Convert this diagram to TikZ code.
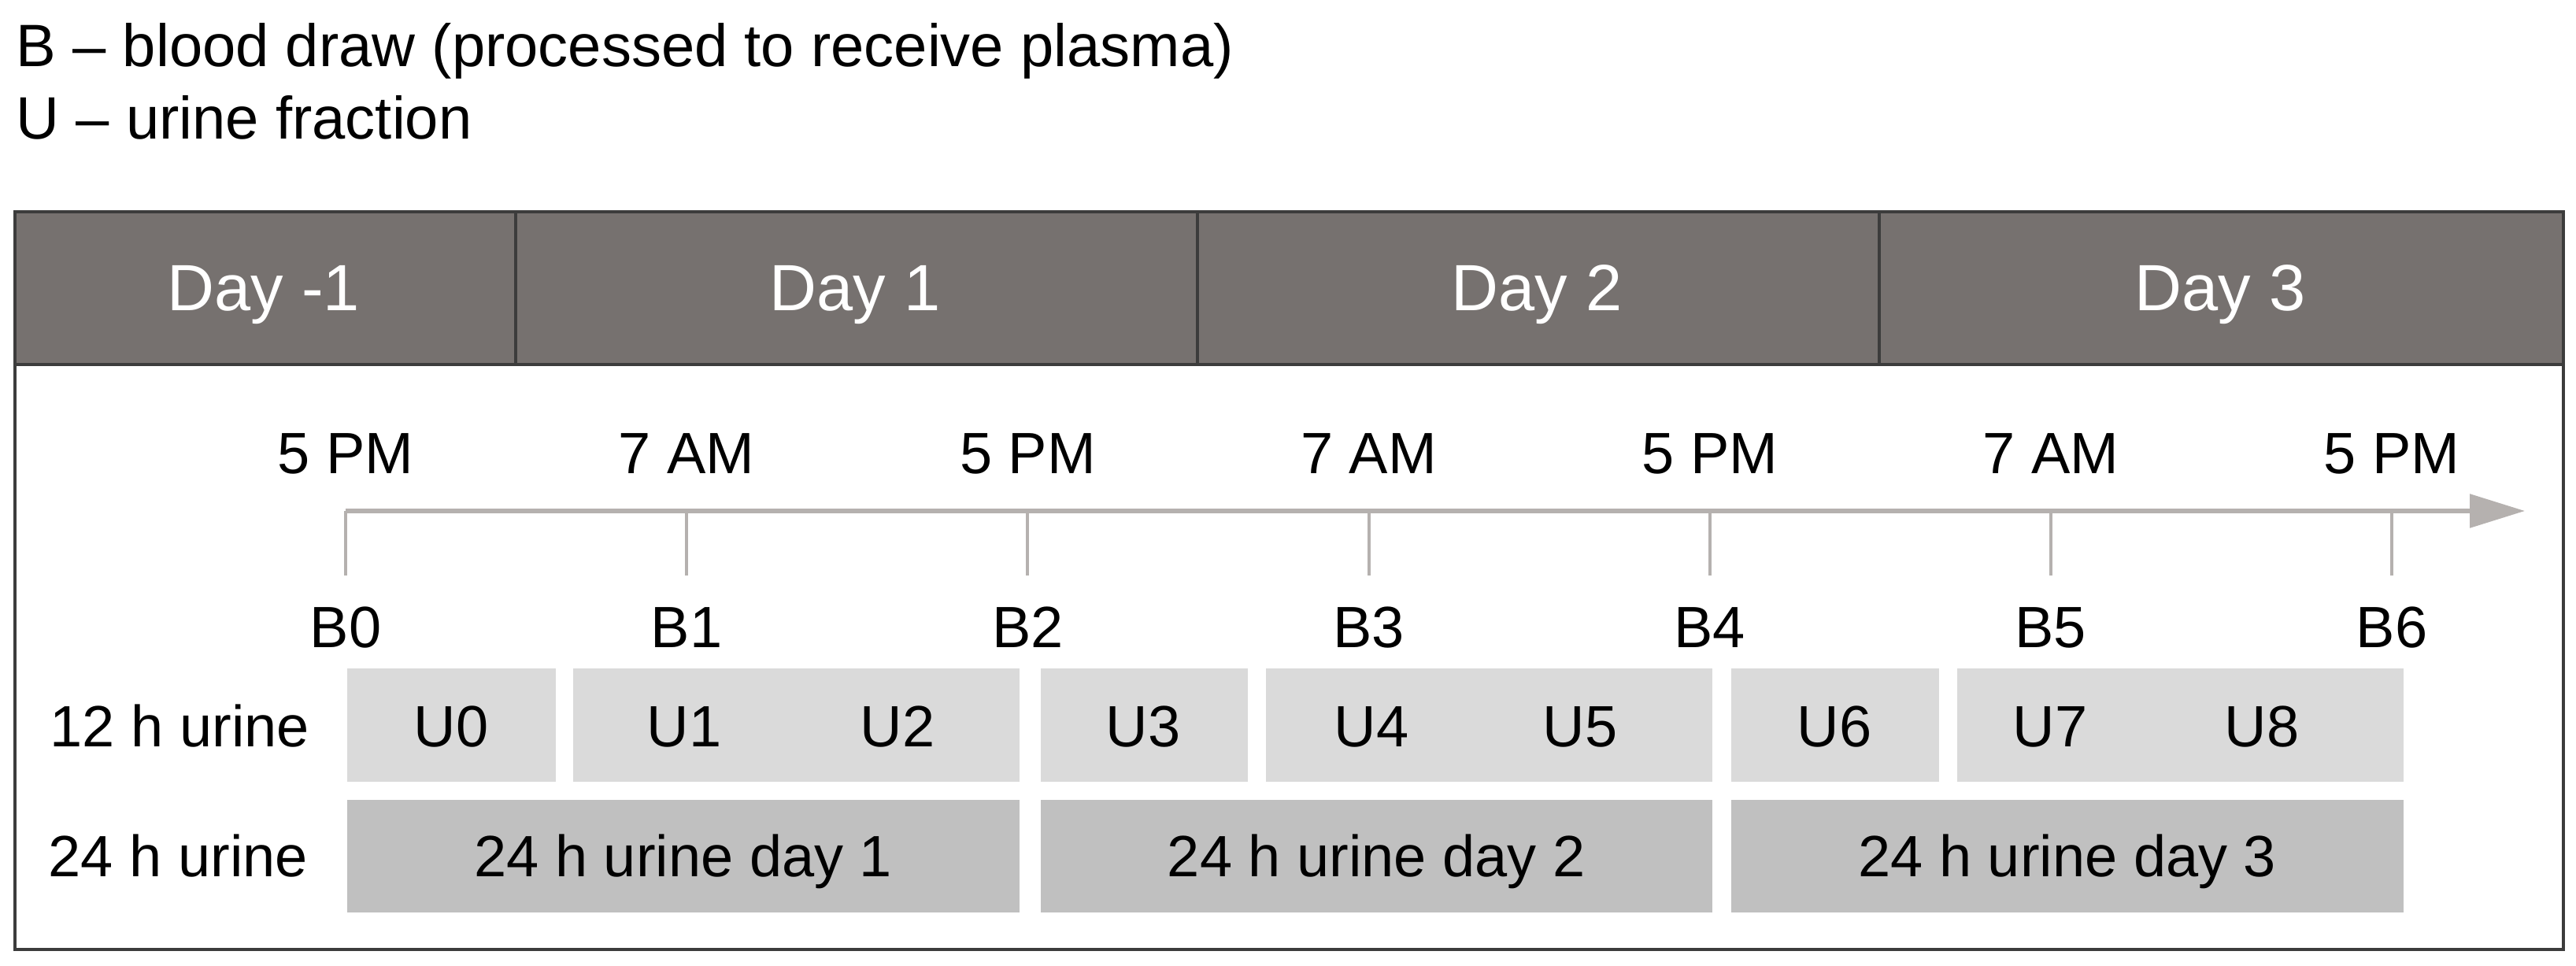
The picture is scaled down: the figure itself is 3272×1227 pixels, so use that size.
\documentclass[tikz,border=0pt]{standalone}
\usepackage{fontspec}
\setmainfont{Liberation Sans}
\usetikzlibrary{arrows.meta}
\definecolor{hdr}{RGB}{118,113,111}
\definecolor{framec}{RGB}{60,60,60}
\definecolor{uboxc}{RGB}{218,218,218}
\definecolor{dboxc}{RGB}{192,192,192}
\definecolor{axisc}{RGB}{181,177,175}
\begin{document}
\begin{tikzpicture}[x=0.25pt,y=-0.25pt,
  lbl/.style={font=\fontsize{18.5pt}{22pt}\selectfont, inner sep=0pt, anchor=base},
  leg/.style={font=\fontsize{19pt}{22pt}\selectfont, inner sep=0pt, anchor=base west},
  daylbl/.style={font=\fontsize{20.75pt}{24pt}\selectfont, text=white, inner sep=0pt, anchor=base},
  hcell/.style={fill=hdr, draw=framec, line width=0.9pt, inner sep=0pt, anchor=north west, minimum height=48.5pt},
  ubox/.style={fill=uboxc, draw=none, inner sep=0pt, anchor=north west, minimum height=36pt},
  dbox/.style={fill=dboxc, draw=none, inner sep=0pt, anchor=north west, minimum height=35.75pt},
  axisline/.style={draw=axisc, line width=1.4pt},
  tickline/.style={draw=axisc, line width=1pt}]
\useasboundingbox (0,0) rectangle (3272,1227);
% legend
\node[leg] (legb) at (20,85) {B – blood draw (processed to receive plasma)};
\node[leg] (legu) at (20,177) {U – urine fraction};
% header cells
\node[hcell, minimum width=159pt] (hd0) at (17,267) {};
\node[hcell, minimum width=216.5pt] (hd1) at (653,267) {};
\node[hcell, minimum width=216.5pt] (hd2) at (1519,267) {};
\node[hcell, minimum width=217.25pt] (hd3) at (2385,267) {};
\node[daylbl] (day0) at (335,395) {Day -1};
\node[daylbl] (day1) at (1086,395) {Day 1};
\node[daylbl] (day2) at (1952,395) {Day 2};
\node[daylbl] (day3) at (2820,395) {Day 3};
% outer frame
\node[draw=framec, line width=1.1pt, inner sep=0pt, anchor=north west, minimum width=809.25pt, minimum height=234.25pt] (frame) at (17,267) {};
% axis
\coordinate (axend) at (3207,649);
\foreach \i/\t in {0/5 PM,1/7 AM,2/5 PM,3/7 AM,4/5 PM,5/7 AM,6/5 PM}{
  \pgfmathsetmacro\xx{439+\i*433.17}
  \coordinate (t\i) at (\xx,649);
  \coordinate (tb\i) at (\xx,731);
  \node[lbl] (time\i) at (\xx,602) {\t};
  \node[lbl] (b\i) at (\xx,823) {B\i};
}
\draw[axisline, -{Triangle[length=17.5pt,width=10.5pt]}] (t0) -- (axend);
\foreach \i in {0,...,6}{ \draw[tickline] (t\i) -- (tb\i); }
% row labels
\node[lbl, anchor=base west] (row12) at (63,948) {12 h urine};
\node[lbl, anchor=base west] (row24) at (61,1113) {24 h urine};
% 12 h boxes
\node[ubox, minimum width=66.25pt] (ub0) at (440,848) {};
\node[ubox, minimum width=141.75pt] (ub1) at (727,848) {};
\node[ubox, minimum width=65.75pt] (ub3) at (1321,848) {};
\node[ubox, minimum width=141.75pt] (ub4) at (1607,848) {};
\node[ubox, minimum width=66pt] (ub6) at (2198,848) {};
\node[ubox, minimum width=141.75pt] (ub7) at (2485,848) {};
\foreach \n/\x in {0/573,1/869,2/1140,3/1452,4/1742,5/2007,6/2330,7/2604,8/2873}{
  \node[lbl] (u\n) at (\x,948) {U\n};
}
% 24 h boxes
\node[dbox, minimum width=213.5pt] (db1) at (440,1015) {};
\node[dbox, minimum width=213.25pt] (db2) at (1321,1015) {};
\node[dbox, minimum width=213.5pt] (db3) at (2198,1015) {};
\node[lbl] (dl1) at (db1.center |- 0,1113) {24 h urine day 1};
\node[lbl] (dl2) at (db2.center |- 0,1113) {24 h urine day 2};
\node[lbl] (dl3) at (db3.center |- 0,1113) {24 h urine day 3};
\end{tikzpicture}
\end{document}
